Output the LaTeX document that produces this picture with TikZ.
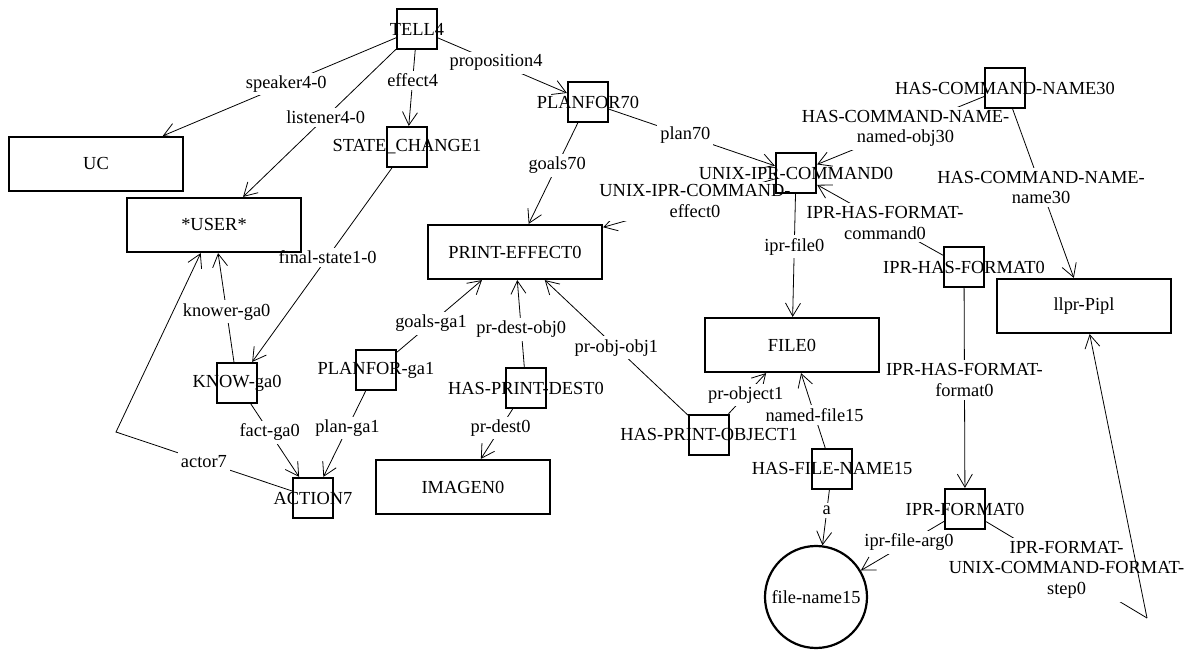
\documentclass[tikz,border=0pt]{standalone}
\usepackage{fontspec}
\setmainfont{Liberation Serif}
\usetikzlibrary{arrows.meta, backgrounds, shapes.geometric}

\begin{document}
\begin{tikzpicture}[
			x=0.5pt, y=-0.5pt,
			font=\fontsize{9.2}{10.4}\selectfont,
			line width=1.1pt,
			>={Straight Barb[length=6.5pt,width=7.5pt]},
			concept/.style  = {draw, rectangle, minimum width=87pt, minimum height=27pt},
			relation/.style = {draw, rectangle, minimum size=20pt, inner sep=0pt},
			literal/.style  = {draw, circle, minimum size=51pt, inner sep=0pt},
			role/.style     = {fill=white, inner sep=1.5pt, align=center},
			elbow/.style    = {coordinate}
			]
			
			\useasboundingbox (0,0) rectangle (1189,651);
			
			%% ── Concepts ──────────────────────────────────────────────────
			\node [concept] (uc)       at (96,164)   {UC};
			\node [concept] (user)     at (214,225)  {*USER*};
			\node [concept] (printeff) at (515,252)  {PRINT-EFFECT0};
			\node [concept] (file)     at (792,345)  {FILE0};
			\node [concept] (lpr)      at (1084,306) {llpr-Pipl};
			\node [concept] (imagen)   at (463,487)  {IMAGEN0};
			\node [literal] (fname)    at (816,597)  {file-name15};
			
			%% ── Relations ─────────────────────────────────────────────────
			\node [relation, label=center:TELL4]             (tell)      at (417,29)  {};
			\node [relation, label=center:STATE\_CHANGE1]    (state)     at (407,147) {};
			\node [relation, label=center:PLANFOR70]         (planfor)   at (588,102) {};
			\node [relation, label=center:UNIX-IPR-COMMAND0] (unixcmd)   at (796,173) {};
			\node [relation, label=center:HAS-COMMAND-NAME30] (cmdname)  at (1005,88) {};
			\node [relation, label=center:IPR-HAS-FORMAT0]   (hasformat) at (964,267) {};
			\node [relation, label=center:IPR-FORMAT0]       (format)    at (965,509) {};
			\node [relation, label=center:HAS-FILE-NAME15]   (hasfname)  at (832,469) {};
			\node [relation, label=center:HAS-PRINT-OBJECT1] (hasprobj)  at (709,435) {};
			\node [relation, label=center:HAS-PRINT-DEST0]   (hasprdest) at (526,388) {};
			\node [relation, label=center:PLANFOR-ga1]       (planga)    at (376,370) {};
			\node [relation, label=center:KNOW-ga0]          (know)      at (237,383) {};
			\node [relation, label=center:ACTION7]           (action)    at (313,498) {};
			
			\coordinate [elbow] (actorbend) at (116,432);
			\coordinate [elbow] (stepbend)  at (1147,618);
			
			\begin{scope}[on background layer]
			%% ── TELL4 roles ───────────────────────────────────────────────
			\draw [->] (tell) -- node[role, pos=0.47] {speaker4-0}   (uc);
			\draw [->] (tell) -- node[role, pos=0.46] {listener4-0}  (user);
			\draw [->] (tell) -- node[role, pos=0.40] {effect4}      (state);
			\draw [->] (tell) -- node[role, pos=0.45] {proposition4} (planfor);
			
			%% ── Plan and command ──────────────────────────────────────────
			\draw [->] (planfor) -- node[role, pos=0.42] {goals70} (printeff);
			\draw [->] (planfor) -- node[role, pos=0.46] {plan70}  (unixcmd);
			\draw [->] (unixcmd) -- node[role, pos=0.465] {UNIX-IPR-COMMAND-\\effect0} (printeff);
			\draw [->] (cmdname) -- node[role, pos=0.47] {HAS-COMMAND-NAME-\\named-obj30} (unixcmd);
			\draw [->] (cmdname) -- node[role, pos=0.465] {HAS-COMMAND-NAME-\\name30} (lpr);
			\draw [->] (hasformat) -- node[role, pos=0.46] {IPR-HAS-FORMAT-\\command0} (unixcmd);
			\draw [->] (unixcmd) -- node[role, pos=0.43] {ipr-file0} (file);
			\draw [->] (hasformat) -- node[role, pos=0.46] {IPR-HAS-FORMAT-\\format0} (format);
			
			% format step goes round to the printer name
			\draw (format) -- node[role, pos=0.5] {IPR-FORMAT-\\UNIX-COMMAND-FORMAT-\\step0} (stepbend);
			\draw [->] (stepbend) -- (lpr);
			\draw [->] (format) -- node[role, pos=0.42] {ipr-file-arg0} (fname);
			
			%% ── File ──────────────────────────────────────────────────────
			\draw [->] (hasfname) -- node[role, pos=0.37] {a} (fname);
			\draw [->] (hasfname) -- node[role, pos=0.44] {named-file15} (file);
			\draw [->] (hasprobj) -- node[role, pos=0.46] {pr-object1} (file);
			
			%% ── Print effect ──────────────────────────────────────────────
			\draw [->] (hasprobj)  -- node[role, pos=0.50] {pr-obj-obj1}  (printeff);
			\draw [->] (hasprdest) -- node[role, pos=0.43] {pr-dest-obj0} (printeff);
			\draw [->] (hasprdest) -- node[role, pos=0.38] {pr-dest0}     (imagen);
			\draw [->] (planga)    -- node[role, pos=0.40] {goals-ga1}    (printeff);
			
			%% ── Action ────────────────────────────────────────────────────
			\draw [->] (planga) -- node[role, pos=0.43] {plan-ga1} (action);
			\draw [->] (know)   -- node[role, pos=0.39] {fact-ga0} (action);
			\draw [->] (know)   -- node[role, pos=0.46] {knower-ga0} (user);
			\draw [->] (state)  -- node[role, pos=0.46] {final-state1-0} (know);
			\draw [->] (action) -- node[role, pos=0.50] {actor7} (actorbend) -- (user);
			\end{scope}
			
		\end{tikzpicture}
\end{document}
